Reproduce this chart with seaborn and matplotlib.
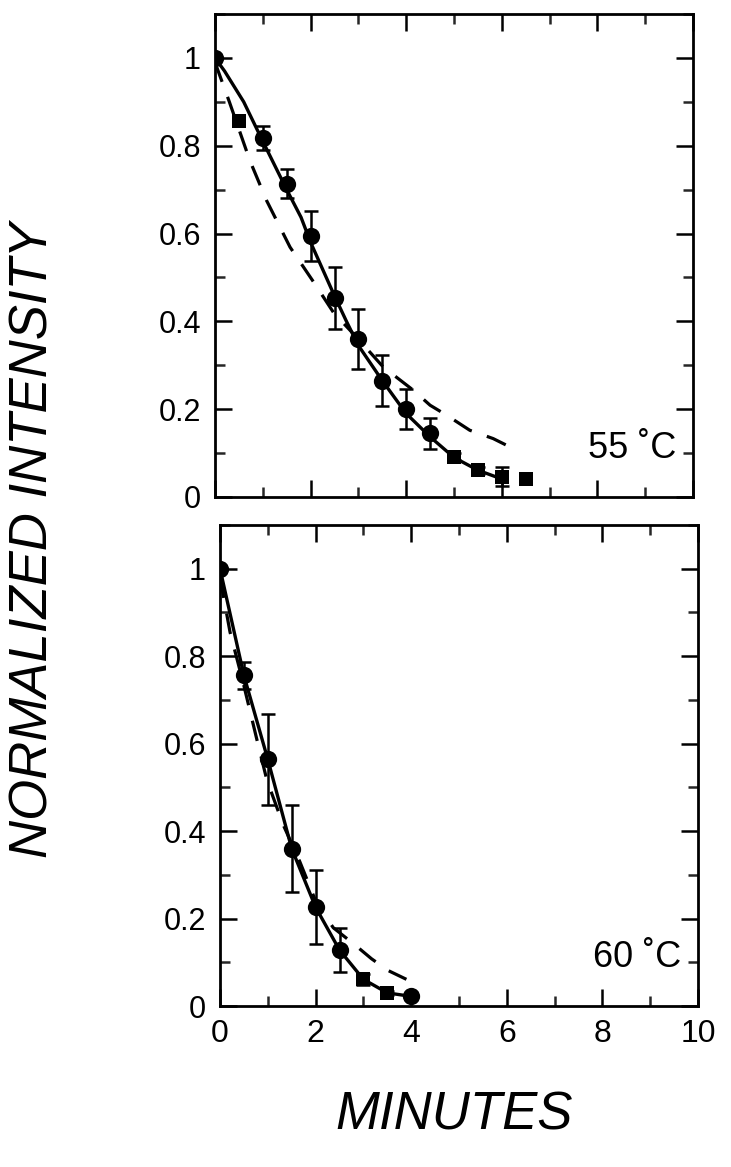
import numpy as np
import pandas as pd
import matplotlib
matplotlib.use("Agg")
import matplotlib.pyplot as plt
import seaborn as sns
from matplotlib.ticker import MultipleLocator, FuncFormatter

# ---------------- data ----------------
# 55 C panel
t55 = [0, 0.5, 1, 1.5, 2, 2.5, 3, 3.5, 4, 4.5, 5, 5.5, 6, 6.5]
i55 = [1.0, 0.857, 0.817, 0.713, 0.595, 0.453, 0.36, 0.265, 0.2, 0.145, 0.092, 0.061, 0.046, 0.042]
e55 = [0, 0, 0.027, 0.033, 0.057, 0.07, 0.068, 0.058, 0.045, 0.035, 0.008, 0.008, 0.022, 0]
m55 = ['o', 's', 'o', 'o', 'o', 'o', 'o', 'o', 'o', 'o', 's', 's', 's', 's']
fit55_t = [0, 0.2, 0.6, 1.0, 1.5, 1.8, 2.0, 2.5, 2.75, 3.0, 3.5, 4.0, 4.5, 5.0, 5.5, 6.0]
fit55_i = [1.0, 0.97, 0.90, 0.81, 0.70, 0.637, 0.58, 0.458, 0.40, 0.345, 0.265, 0.19, 0.137, 0.09, 0.061, 0.041]
dash55_t = [0.0, 0.3, 0.73, 1.08, 1.57, 2.06, 2.48, 2.96, 3.52, 4.15, 4.5, 4.85, 5.33, 5.82, 6.3]
dash55_i = [0.99, 0.90, 0.766, 0.675, 0.569, 0.49, 0.42, 0.364, 0.296, 0.243, 0.209, 0.186, 0.152, 0.133, 0.107]

# 60 C panel
t60 = [0, 0.5, 1, 1.5, 2, 2.5, 3, 3.5, 4]
i60 = [1.0, 0.756, 0.564, 0.36, 0.226, 0.128, 0.061, 0.03, 0.022]
e60 = [0, 0.03, 0.104, 0.099, 0.085, 0.051, 0.012, 0.005, 0]
m60 = ['o', 'o', 'o', 'o', 'o', 'o', 's', 's', 'o']
fit60_t = [0, 0.5, 1, 1.5, 2, 2.5, 3, 3.5, 4]
fit60_i = [1.0, 0.756, 0.564, 0.36, 0.226, 0.128, 0.061, 0.03, 0.022]
dash60_t = [0.0, 0.21, 0.49, 0.77, 0.98, 1.32, 1.67, 2.02, 2.37, 2.82, 3.17, 3.52, 3.9]
dash60_i = [0.98, 0.855, 0.737, 0.61, 0.517, 0.415, 0.33, 0.235, 0.179, 0.14, 0.108, 0.081, 0.061]

panel_labels = ["55 \u02daC", "60 \u02daC"]
x_ticks = [0, 2, 4, 6, 8, 10]
y_ticks = [0, 0.2, 0.4, 0.6, 0.8, 1.0]
x_label = "MINUTES"
y_label = "NORMALIZED INTENSITY"

# ---------------- style ----------------
sns.set_style("ticks")
plt.rcParams['font.family'] = ['Liberation Sans', 'DejaVu Sans']

W, H = 731, 1167
fig = plt.figure(figsize=(W / 100, H / 100), dpi=100)


def box(l, r, t, b):
    return [l / W, 1 - b / H, (r - l) / W, (b - t) / H]


ax1 = fig.add_axes(box(215, 693, 14, 497))
ax2 = fig.add_axes(box(220, 698, 525, 1006))

panels = [
    (ax1, t55, i55, e55, m55, fit55_t, fit55_i, dash55_t, dash55_i, panel_labels[0]),
    (ax2, t60, i60, e60, m60, fit60_t, fit60_i, dash60_t, dash60_i, panel_labels[1]),
]

for ax, t, yv, e, m, ft, fi, dt, di, lab in panels:
    df = pd.DataFrame({'t': t, 'i': yv, 'e': e, 'm': m})
    sns.lineplot(x=dt, y=di, ax=ax, color='black', lw=2.3, estimator=None,
                 linestyle=(0, (6.5, 5)))
    sns.lineplot(x=ft, y=fi, ax=ax, color='black', lw=2.4, estimator=None)
    eb = df[df['e'] > 0]
    ax.errorbar(eb['t'], eb['i'], yerr=eb['e'], fmt='none', ecolor='black',
                elinewidth=1.8, capsize=5, capthick=1.8, zorder=3)
    circ = df[df['m'] == 'o']
    sq = df[df['m'] == 's']
    sns.scatterplot(data=circ, x='t', y='i', ax=ax, marker='o', s=155,
                    color='black', edgecolor='black', linewidth=0, zorder=4)
    sns.scatterplot(data=sq, x='t', y='i', ax=ax, marker='s', s=105,
                    color='black', edgecolor='black', linewidth=0, zorder=4)

    ax.set_xlim(0, 10)
    ax.set_ylim(0, 1.1)
    ax.set_xticks(x_ticks)
    ax.set_yticks(y_ticks)
    ax.xaxis.set_minor_locator(MultipleLocator(1))
    ax.yaxis.set_minor_locator(MultipleLocator(0.1))
    ax.yaxis.set_major_formatter(FuncFormatter(lambda v, p: "%g" % round(v, 2)))
    ax.tick_params(which='major', direction='in', length=12, width=1.8,
                   top=True, right=True, labelsize=22, pad=10, colors='black')
    ax.tick_params(which='minor', direction='in', length=7, width=1.8,
                   top=True, right=True)
    ax.tick_params(axis='x', which='major', pad=9, labelsize=23)
    for sp in ax.spines.values():
        sp.set_visible(True)
        sp.set_linewidth(2.0)
        sp.set_color('black')
    ax.set_xlabel("")
    ax.set_ylabel("")
    ax.text(0.965, 0.1, lab, transform=ax.transAxes, ha='right', va='center',
            fontsize=26, color='black')

ax1.tick_params(axis='x', labelbottom=False)

fig.text(34 / W, 1 - 540 / H, y_label, rotation=90, ha='center', va='center',
         fontsize=38, style='italic', color='black')
fig.text(454 / W, 1 - 1115 / H, x_label, ha='center', va='center',
         fontsize=38, style='italic', color='black')

fig.savefig("out.png", dpi=100)
